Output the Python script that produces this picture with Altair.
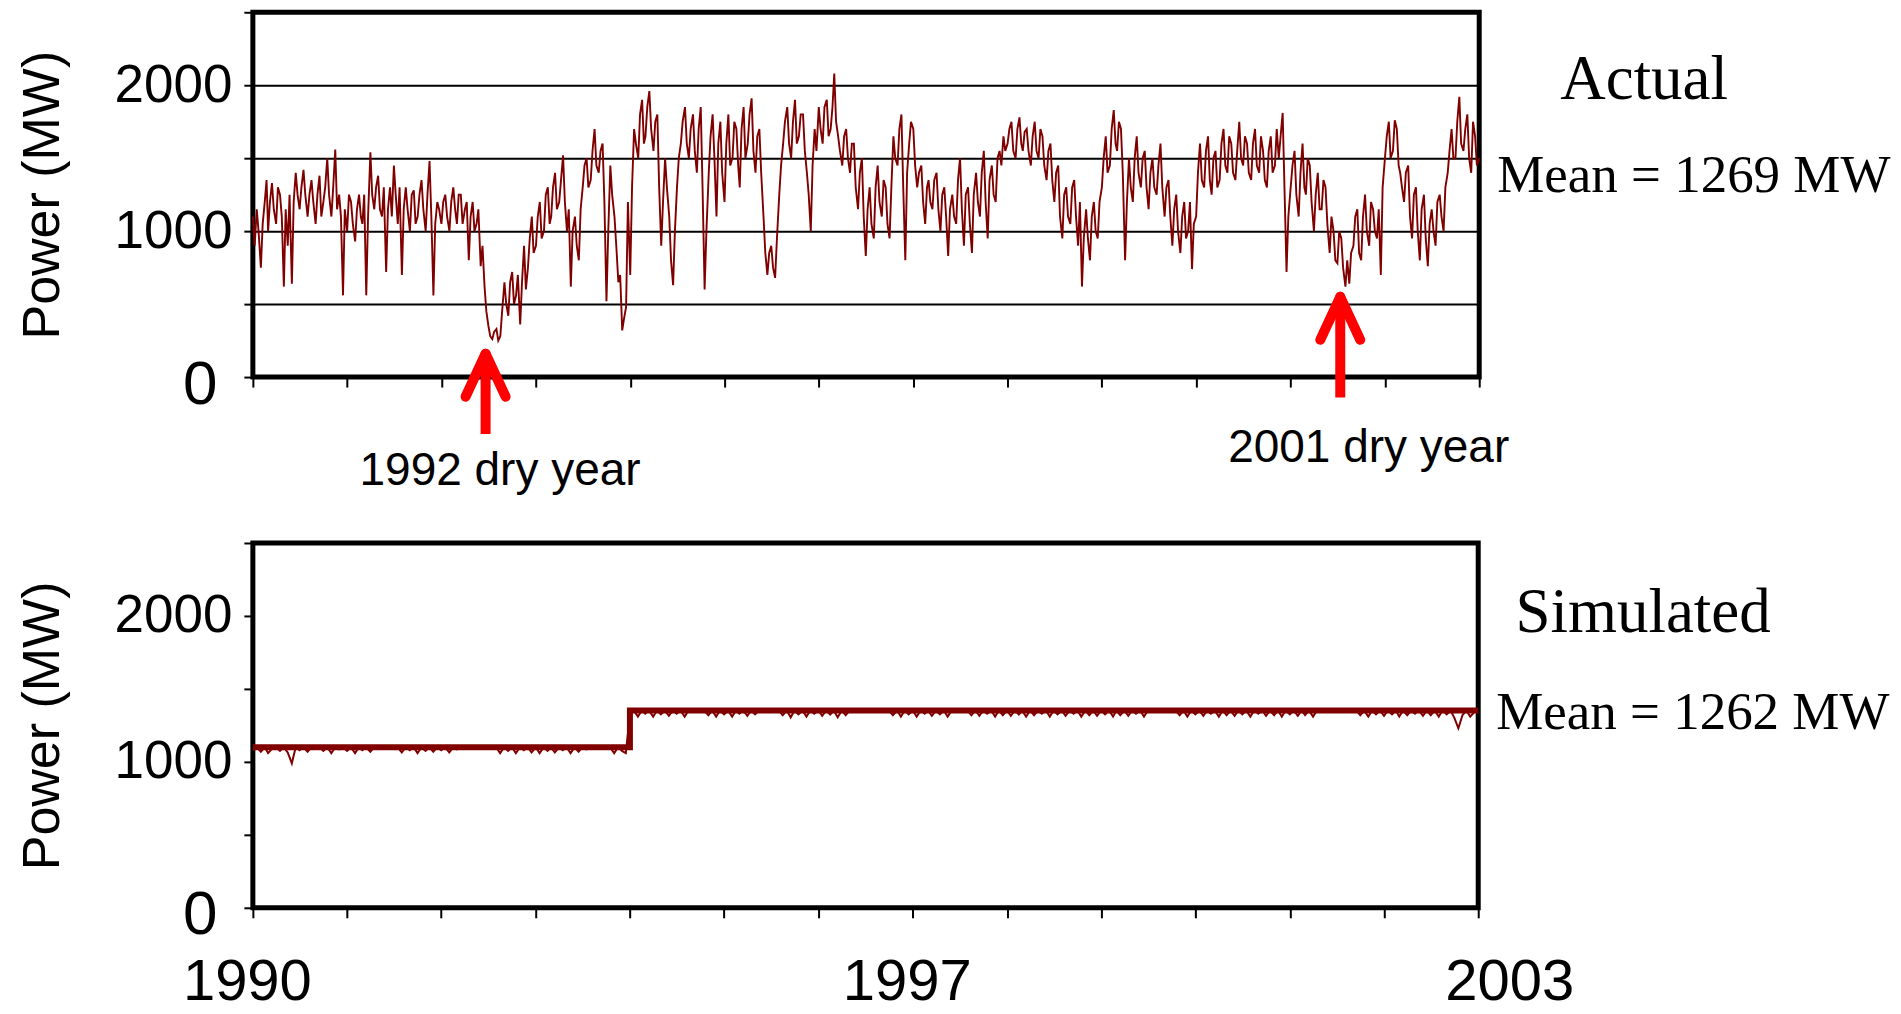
import altair as alt
import pandas as pd

# ---------------- data ----------------
years = list(range(1990, 2003))

# Actual hydro output, readings on the 1st and 16th of each month (MW)
actual_1990 = [1100, 1150, 750, 1200, 1000, 1330, 1050, 1250, 620, 900, 640, 1400,
               1150, 1420, 1100, 1350, 1050, 1380, 1200, 1500, 1100, 1560, 1250, 560]
actual_1991 = [1000, 1200, 930, 1250, 1050, 560, 1540, 1150, 1380, 1100, 720, 1300,
               1450, 1050, 700, 1300, 1000, 1280, 1100, 1350, 1000, 1480, 560, 1200]
actual_1992 = [1050, 1250, 1000, 1300, 1050, 1250, 1150, 800, 1200, 1050, 760, 620,
               350, 260, 330, 280, 650, 420, 720, 560, 360, 900, 750, 1100]
actual_1993 = [900, 1200, 1000, 1300, 1100, 1400, 1200, 1520, 1000, 620, 1100, 800,
               1300, 1500, 1350, 1700, 1400, 1600, 520, 1450, 1100, 650, 320, 480]
actual_1994 = [700, 1700, 1500, 1900, 1650, 1960, 1550, 1800, 900, 1500, 1100, 630,
               1300, 1600, 1850, 1500, 1800, 1400, 1850, 600, 1400, 1800, 1100, 1750]
actual_1995 = [1200, 1800, 1500, 1700, 1300, 1850, 1600, 1910, 1400, 1700, 1100, 700,
               900, 680, 1250, 1600, 1850, 1500, 1900, 1650, 1800, 1400, 1000, 1700]
actual_1996 = [1850, 1600, 1900, 1700, 2080, 1650, 1450, 1700, 1400, 1600, 1150, 1500,
               830, 1300, 950, 1450, 1100, 1300, 950, 1650, 1450, 1800, 800, 1600]
actual_1997 = [1700, 1300, 1450, 1050, 1350, 1150, 1400, 1000, 1300, 830, 1250, 1050,
               1500, 900, 1300, 850, 1400, 1100, 1550, 950, 1450, 1200, 1550, 1650]
actual_1998 = [1600, 1750, 1500, 1780, 1550, 1700, 1450, 1750, 1500, 1650, 1350, 1600,
               1200, 1450, 950, 1300, 1050, 1350, 900, 620, 1150, 800, 1200, 950]
actual_1999 = [1300, 1650, 1450, 1830, 1550, 1700, 800, 1500, 1200, 1650, 1300, 1550,
               1150, 1500, 1250, 1600, 1100, 1350, 900, 1250, 850, 1200, 1000, 740]
actual_2000 = [1100, 1600, 1300, 1650, 1250, 1550, 1350, 1700, 1400, 1600, 1350, 1750,
               1450, 1600, 1350, 1700, 1400, 1550, 1300, 1650, 1450, 1500, 1810, 720]
actual_2001 = [1300, 1550, 1100, 1600, 1250, 1450, 1000, 1400, 1150, 1300, 850, 1000,
               780, 950, 620, 640, 900, 1150, 800, 1250, 900, 1150, 950, 700]
actual_2002 = [1500, 1750, 1550, 1700, 1400, 1200, 1450, 950, 1300, 800, 1250, 760,
               1150, 900, 1250, 1000, 1400, 1700, 1500, 1920, 1550, 1800, 1400, 1650]
actual_end = [1500]

# Actual hydro output, readings on the 8th and 23rd of each month (MW)
mid_1990 = [900, 1000, 1050, 1350, 1200, 1150, 1300, 1100, 1150, 1250, 1200, 1250,
            1300, 1250, 1250, 1200, 1250, 1100, 1300, 1250, 1300, 1150, 1100, 1150]
mid_1991 = [1250, 1050, 1150, 1100, 1250, 1100, 1250, 1300, 1150, 1300, 1150, 1100,
            1250, 1300, 1150, 1150, 1250, 1050, 1250, 1150, 1250, 1100, 1050, 1150]
mid_1992 = [1200, 1100, 1200, 1150, 1250, 1050, 1200, 1100, 1000, 1150, 900, 450,
            280, 310, 250, 450, 500, 650, 500, 700, 650, 600, 950, 850]
mid_1993 = [1100, 950, 1250, 1050, 1300, 1150, 1350, 1200, 1150, 1000, 900, 1150,
            1450, 1300, 1550, 1450, 1550, 1200, 1000, 1250, 900, 700, 400, 1200]
mid_1994 = [1300, 1600, 1800, 1600, 1850, 1700, 1750, 1300, 1200, 1300, 800, 1000,
            1500, 1750, 1600, 1700, 1550, 1700, 1300, 1000, 1650, 1500, 1600, 1400]
mid_1995 = [1600, 1450, 1750, 1450, 1700, 1500, 1800, 1550, 1650, 1400, 850, 850,
            750, 950, 1450, 1750, 1600, 1750, 1600, 1800, 1550, 1250, 1450, 1550]
mid_1996 = [1700, 1850, 1650, 1850, 1750, 1550, 1650, 1500, 1600, 1300, 1400, 1100,
            1150, 1050, 1300, 1200, 1350, 1050, 1300, 1500, 1700, 1300, 1400, 1750]
mid_1997 = [1450, 1400, 1200, 1300, 1200, 1350, 1150, 1250, 1100, 1150, 1100, 1350,
            1150, 1250, 1050, 1250, 1200, 1400, 1200, 1350, 1250, 1500, 1450, 1550]
mid_1998 = [1700, 1550, 1700, 1600, 1680, 1550, 1650, 1550, 1700, 1450, 1550, 1350,
            1400, 1100, 1250, 1100, 1300, 1100, 1200, 950, 950, 1100, 1000, 1200]
mid_1999 = [1500, 1400, 1700, 1600, 1750, 1400, 1200, 1300, 1500, 1400, 1500, 1300,
            1400, 1300, 1450, 1300, 1300, 1100, 1150, 1000, 1100, 950, 1200, 1050]
mid_2000 = [1400, 1350, 1550, 1350, 1500, 1300, 1600, 1450, 1650, 1400, 1550, 1500,
            1650, 1400, 1600, 1450, 1650, 1350, 1550, 1400, 1700, 1650, 1300, 1100]
mid_2001 = [1450, 1250, 1400, 1300, 1500, 1200, 1250, 1150, 1350, 1050, 1100, 800,
            1000, 750, 800, 850, 1100, 850, 1100, 1000, 1200, 1000, 1150, 1300]
mid_2002 = [1650, 1500, 1760, 1450, 1300, 1400, 1100, 1250, 1000, 1150, 950, 1050,
            1000, 1200, 1100, 1300, 1550, 1500, 1750, 1600, 1700, 1500, 1750, 1450]

# Simulated output, readings on the 1st and 16th of each month (MW)
sim_1990 = [1080, 1100, 1070, 1100, 1060, 1090, 1100, 1075, 1100, 1065, 990, 1100,
            1080, 1100, 1070, 1100, 1090, 1100, 1075, 1100, 1060, 1100, 1085, 1100]
sim_1991 = [1075, 1100, 1060, 1100, 1080, 1100, 1070, 1100, 1100, 1100, 1100, 1100,
            1100, 1100, 1065, 1100, 1080, 1100, 1060, 1100, 1075, 1100, 1070, 1100]
sim_1992 = [1080, 1100, 1065, 1100, 1085, 1100, 1100, 1100, 1100, 1100, 1100, 1100,
            1100, 1100, 1100, 1060, 1100, 1075, 1100, 1060, 1100, 1080, 1100, 1065]
sim_1993 = [1100, 1060, 1100, 1075, 1100, 1065, 1100, 1080, 1100, 1060, 1100, 1070,
            1100, 1085, 1100, 1100, 1100, 1100, 1100, 1100, 1060, 1100, 1075, 1060]
sim_1994 = [1320, 1352, 1310, 1352, 1330, 1352, 1310, 1352, 1325, 1352, 1315, 1352,
            1330, 1352, 1310, 1352, 1352, 1352, 1352, 1352, 1320, 1352, 1310, 1352]
sim_1995 = [1325, 1352, 1310, 1352, 1330, 1352, 1315, 1352, 1325, 1352, 1352, 1352,
            1352, 1352, 1352, 1320, 1352, 1305, 1352, 1325, 1352, 1310, 1352, 1330]
sim_1996 = [1352, 1315, 1352, 1325, 1352, 1305, 1352, 1320, 1352, 1352, 1352, 1352,
            1352, 1352, 1352, 1352, 1352, 1352, 1352, 1320, 1352, 1310, 1352, 1325]
sim_1997 = [1352, 1310, 1352, 1330, 1352, 1315, 1352, 1325, 1352, 1310, 1352, 1352,
            1352, 1352, 1352, 1320, 1352, 1315, 1352, 1330, 1352, 1310, 1352, 1320]
sim_1998 = [1352, 1315, 1352, 1325, 1352, 1310, 1352, 1320, 1352, 1330, 1352, 1310,
            1352, 1325, 1352, 1315, 1352, 1330, 1352, 1310, 1352, 1320, 1352, 1315]
sim_1999 = [1352, 1325, 1352, 1310, 1352, 1320, 1352, 1315, 1352, 1330, 1352, 1310,
            1352, 1352, 1352, 1352, 1352, 1352, 1352, 1352, 1320, 1352, 1310, 1352]
sim_2000 = [1325, 1352, 1315, 1352, 1330, 1352, 1310, 1352, 1320, 1352, 1315, 1352,
            1325, 1352, 1310, 1352, 1330, 1352, 1315, 1352, 1320, 1352, 1310, 1352]
sim_2001 = [1325, 1352, 1315, 1352, 1320, 1352, 1310, 1352, 1352, 1352, 1352, 1352,
            1352, 1352, 1352, 1352, 1352, 1352, 1320, 1352, 1310, 1352, 1325, 1352]
sim_2002 = [1315, 1352, 1325, 1352, 1310, 1352, 1320, 1352, 1330, 1352, 1315, 1352,
            1320, 1352, 1310, 1352, 1325, 1352, 1300, 1230, 1320, 1352, 1310, 1340]
sim_end = [1352]

# Simulated upper level (step)
cap_dates = ["1990-01-01T00:00:00", "1994-01-01T00:00:00", "2003-01-01T00:00:00"]
cap_values = [1100, 1352, 1352]

# Dry-year annotations
arrow_dates = ["1992-06-20T00:00:00", "2001-07-12T00:00:00"]
arrow_tips = [160, 550]
arrow_tails = [-390, -140]
note_dates = ["1992-08-15T00:00:00", "2001-10-30T00:00:00"]
note_values = [-737, -580]
note_texts = ["1992 dry year", "2001 dry year"]

panel_titles = ["Actual", "Simulated"]
panel_title_values = [1905, 1890]
means = [1269, 1262]
end_date = "2003-01-01T00:00:00"

tick_years = list(range(1990, 2004))
y_ticks = [0, 500, 1000, 1500, 2000, 2500]

# ---------------- build tables ----------------
main_dates = [f"{y}-{m:02d}-{d:02d}T00:00:00" for y in years for m in range(1, 13) for d in (1, 16)] + [end_date]
mid_dates = [f"{y}-{m:02d}-{d:02d}T00:00:00" for y in years for m in range(1, 13) for d in (8, 23)]
actual = (actual_1990 + actual_1991 + actual_1992 + actual_1993 + actual_1994 + actual_1995 +
          actual_1996 + actual_1997 + actual_1998 + actual_1999 + actual_2000 + actual_2001 +
          actual_2002 + actual_end)
actual_mid = (mid_1990 + mid_1991 + mid_1992 + mid_1993 + mid_1994 + mid_1995 + mid_1996 +
              mid_1997 + mid_1998 + mid_1999 + mid_2000 + mid_2001 + mid_2002)
sim = (sim_1990 + sim_1991 + sim_1992 + sim_1993 + sim_1994 + sim_1995 + sim_1996 +
       sim_1997 + sim_1998 + sim_1999 + sim_2000 + sim_2001 + sim_2002 + sim_end)

df_act = pd.DataFrame({"date": main_dates + mid_dates, "mw": actual + actual_mid})
df_act = df_act.sort_values("date").reset_index(drop=True)
df_sim = pd.DataFrame({"date": main_dates, "mw": sim})
df_cap = pd.DataFrame({"date": cap_dates, "mw": cap_values})
df_arrow = pd.DataFrame({"date": arrow_dates, "mw": arrow_tips, "mw2": arrow_tails})
df_note = pd.DataFrame({"date": note_dates, "mw": note_values, "txt": note_texts})

SANS = "Liberation Sans"
SERIF = "Liberation Serif"
LINE = "#800000"
RED = "#ff0000"

W_TOP, W_BOT = 1227, 1226
H = 365

x_scale = alt.Scale(domain=[alt.DateTime(year=1990, month=1, date=1),
                            alt.DateTime(year=2003, month=1, date=1)], nice=False)
y_scale = alt.Scale(domain=[0, 2500], nice=False, zero=False)
x_vals = [alt.DateTime(year=y, month=1, date=1) for y in tick_years]


def y_axis(grid):
    return alt.Axis(
        values=y_ticks, format="d",
        labelExpr="datum.value % 1000 == 0 ? datum.label : ''",
        title="Power (MW)", titleFont=SANS, titleFontSize=52, titleFontWeight="normal",
        titleColor="black", titlePadding=45,
        labelFont=SANS, labelColor="black",
        labelFontSize={"condition": {"test": "datum.value == 0", "value": 62}, "value": 53},
        labelOffset={"condition": {"test": "datum.value == 0", "value": 7}, "value": 0},
        labelPadding={"condition": {"test": "datum.value == 0", "value": 27}, "value": 12},
        tickSize=9, tickWidth=2, tickColor="black", domain=False,
        grid=grid, gridColor="black", gridWidth=2, gridOpacity=1,
    )


def x_axis(labels):
    if labels:
        return alt.Axis(
            values=x_vals, format="%Y", title=None,
            labelExpr="(year(datum.value) == 1990 || year(datum.value) == 1997 || year(datum.value) == 2003) ? datum.label : ''",
            labelFont=SANS, labelFontSize=58, labelColor="black", labelPadding=36,
            labelOverlap=False, labelFlush=False, labelBound=False,
            labelOffset={"condition": {"test": "year(datum.value) == 2003", "value": 31}, "value": -6},
            tickSize=10, tickWidth=2, tickColor="black", domain=False, grid=False,
        )
    return alt.Axis(values=x_vals, labels=False, title=None, tickSize=10, tickWidth=2,
                    tickColor="black", domain=False, grid=False)


def X(labels):
    return alt.X("date:T", scale=x_scale, axis=x_axis(labels))


def Y(grid):
    return alt.Y("mw:Q", scale=y_scale, axis=y_axis(grid))


def side_text(idx, grid, labels, mean_dy):
    df_t = pd.DataFrame({"date": [end_date], "mw": [panel_title_values[idx]], "txt": [panel_titles[idx]]})
    df_m = pd.DataFrame({"date": [end_date], "mw": [means[idx]], "txt": [f"Mean = {means[idx]} MW"]})
    t = alt.Chart(df_t).mark_text(font=SERIF, fontSize=63, align="center", baseline="alphabetic",
                                  dx=165, color="black").encode(x=X(labels), y=Y(grid), text="txt:N")
    m = alt.Chart(df_m).mark_text(font=SERIF, fontSize=53, align="left", baseline="alphabetic",
                                  dx=18, dy=mean_dy, color="black").encode(x=X(labels), y=Y(grid), text="txt:N")
    return t + m


# ---------------- top panel: actual ----------------
act_line = alt.Chart(df_act).mark_line(color=LINE, strokeWidth=1.9).encode(x=X(False), y=Y(True))
shaft = alt.Chart(df_arrow).mark_rule(color=RED, strokeWidth=10, yOffset=8).encode(
    x=X(False), y=Y(True), y2="mw2:Q")
wing_l = alt.Chart(df_arrow).mark_rule(color=RED, strokeWidth=10, strokeCap="round",
                                        x2Offset=-20, y2Offset=43).encode(
    x=X(False), y=Y(True), x2="date:T", y2="mw:Q")
wing_r = alt.Chart(df_arrow).mark_rule(color=RED, strokeWidth=10, strokeCap="round",
                                        x2Offset=20, y2Offset=43).encode(
    x=X(False), y=Y(True), x2="date:T", y2="mw:Q")
notes = alt.Chart(df_note).mark_text(font=SANS, fontSize=46, align="center", baseline="alphabetic",
                                     color="black").encode(x=X(False), y=Y(True), text="txt:N")

top = alt.layer(act_line, shaft, wing_l, wing_r, notes, side_text(0, True, False, 0)).properties(
    width=W_TOP, height=H)

# ---------------- bottom panel: simulated ----------------
sim_line = alt.Chart(df_sim).mark_line(color=LINE, strokeWidth=2).encode(x=X(True), y=Y(False))
cap_line = alt.Chart(df_cap).mark_line(color=LINE, strokeWidth=6, interpolate="step-after").encode(
    x=X(True), y=Y(False))

bottom = alt.layer(sim_line, cap_line, side_text(1, False, True, 5)).properties(width=W_BOT, height=H)

chart = alt.vconcat(top, bottom, spacing=42).properties(
    padding={"left": 5, "top": 0, "right": 0, "bottom": 0}, background="white"
).configure_view(stroke="black", strokeWidth=5)

chart.save("out.html", embed_options={"renderer": "svg", "actions": False})
